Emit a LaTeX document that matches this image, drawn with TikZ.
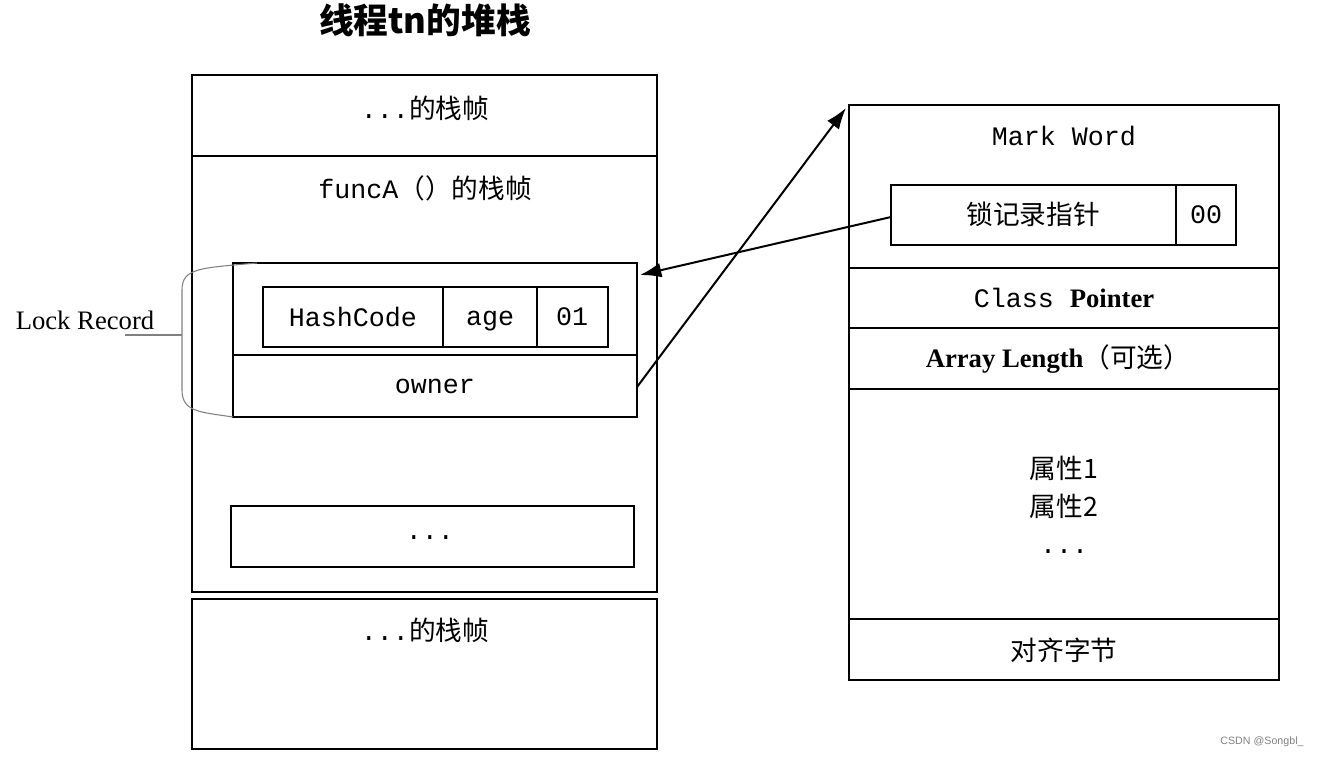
\documentclass[tikz,border=0pt]{standalone}
\usepackage{fontspec}
\newfontfamily\cjk{Noto Sans CJK SC}
\newfontfamily\mono{Liberation Mono}
\newfontfamily\serif{Liberation Serif}
\begin{document}
\begin{tikzpicture}[x=0.75pt,y=-0.75pt,
 box/.style={draw,line width=1.5pt},
 t/.style={font=\fontsize{20}{24}\selectfont},
 arr/.style={line width=1.5pt,-{Latex[length=16pt,width=11pt]}}]
\usetikzlibrary{arrows.meta}
\useasboundingbox (0,0) rectangle (1325,758);
\node[font=\cjk\bfseries\fontsize{26}{29}\selectfont] (title) at (425,20) {线程tn的堆栈};
% left stack
\draw[box] (192,75) rectangle (657,592);
\draw[box] (192,156) -- (657,156);
\draw[box] (192,599) rectangle (657,749);
\node[t] (f1) at (425,108) {\mono ...\cjk 的栈帧};
\node[t] (fa) at (425,188) {\mono funcA\cjk （）的栈帧};
\node[t] (f3) at (425,630) {\mono ...\cjk 的栈帧};
\draw[box] (233,263) rectangle (637,417);
\draw[box] (233,355) -- (637,355);
\draw[box] (263,287) rectangle (608,347);
\draw[box] (443,287) -- (443,347);
\draw[box] (537,287) -- (537,347);
\node[font=\mono\fontsize{20}{24}\selectfont] (hc) at (353,317) {HashCode};
\node[font=\mono\fontsize{20}{24}\selectfont,anchor=base] (age) at (490,325) {age};
\node[font=\mono\fontsize{20}{24}\selectfont] (z1) at (572,317) {01};
\node[font=\mono\fontsize{20}{24}\selectfont] (owner) at (435,386) {owner};
\coordinate (ownR) at (637,387);
\coordinate (lrTop) at (640,275);
\draw[box] (231,506) rectangle (634,567);
\node[font=\mono\fontsize{20}{24}\selectfont] (dots) at (430,538) {...};
% bracket
\draw[gray,line width=0.8pt] (257,263) .. controls (200,268) and (182,268) .. (182,290) -- (182,390) .. controls (182,412) and (200,412) .. (233,417);
\node[font=\serif\fontsize{20}{24}\selectfont] (lr) at (85,320) {Lock Record};
\coordinate (bm) at (182,335);
\draw[gray,line width=0.8pt] (125,335) -- (bm);
% right object
\draw[box] (849,105) rectangle (1279,680);
\foreach \yy in {268,328,389,619} \draw[box] (849,\yy) -- (1279,\yy);
\node[font=\mono\fontsize{20}{24}\selectfont] (mw) at (1064,136) {Mark Word};
\draw[box] (891,185) rectangle (1236,245);
\draw[box] (1176,185) -- (1176,245);
\node[font=\cjk\fontsize{20}{24}\selectfont] (ptr) at (1033,214) {锁记录指针};
\node[font=\mono\fontsize{20}{24}\selectfont] (z2) at (1206,215) {00};
\coordinate (ptrL) at (891,217);
\coordinate (objTop) at (846,108);
\node[t] (cp) at (1064,298) {\mono Class \serif\bfseries Pointer};
\node[t] (al) at (1058,359) {\serif\bfseries Array Length\cjk\mdseries （可选）};
\node[align=center,font=\cjk\fontsize{20}{28}\selectfont] (attr) at (1064,505) {属性1\\属性2\\\mono ...};
\node[font=\cjk\fontsize{20}{24}\selectfont] (pad) at (1064,650) {对齐字节};
\draw[arr] (ptrL) -- (lrTop);
\draw[arr] (ownR) -- (objTop);
\node[gray,font=\fontspec{Liberation Sans}\fontsize{8}{10}\selectfont] (wm) at (1262,742) {CSDN @Songbl\_};
\end{tikzpicture}
\end{document}
